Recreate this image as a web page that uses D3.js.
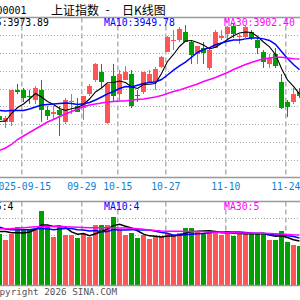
<!DOCTYPE html>
<html>
<head>
<meta charset="utf-8">
<script src="https://cdn.jsdelivr.net/npm/d3@7"></script>
<style>
body { margin: 0; background: #fff; }
svg { display: block; }
.mono { font-family: "DejaVu Sans Mono", "Liberation Mono", monospace; }
.cjk { font-family: "Noto Sans CJK SC", sans-serif; }
</style>
</head>
<body>
<svg id="chart" width="300" height="300"></svg>
<script>
// trading days shown in the window
var dates = ["2025-09-09","2025-09-10","2025-09-11","2025-09-12","2025-09-15","2025-09-16","2025-09-17","2025-09-18","2025-09-19",
    "2025-09-22","2025-09-23","2025-09-24","2025-09-25","2025-09-26","2025-09-29","2025-09-30","2025-10-09","2025-10-10",
    "2025-10-13","2025-10-14","2025-10-15","2025-10-16","2025-10-17","2025-10-20","2025-10-21","2025-10-22","2025-10-23",
    "2025-10-24","2025-10-27","2025-10-28","2025-10-29","2025-10-30","2025-10-31","2025-11-03","2025-11-04","2025-11-05",
    "2025-11-06","2025-11-07","2025-11-10","2025-11-11","2025-11-12","2025-11-13","2025-11-14","2025-11-17","2025-11-18",
    "2025-11-19","2025-11-20","2025-11-21","2025-11-24","2025-11-25","2025-11-26"];

var open = [3817.3,3806.0,3806.0,3875.8,3875.8,3864.5,3853.3,3875.8,3830.8,3821.8,3830.8,3803.8,3849.9,3839.8,3835.3,3869.0,
    3898.3,3916.3,3802.6,3909.5,3869.0,3900.5,3911.8,3865.6,3871.3,3896.0,3894.9,3928.6,3963.5,3987.1,3988.3,4006.3,3984.4,
    3956.8,3972.5,3925.3,3971.4,3993.9,4001.8,4022.0,3996.1,3996.1,4007.4,3988.3,3961.3,3936.5,3959.0,3896.0,3848.8,3851.0,3871.3];
var high = [3819.5,3819.5,3878.0,3891.5,3882.5,3875.8,3884.8,3900.5,3839.8,3839.8,3839.8,3857.8,3866.8,3857.8,3864.5,3889.3,
    3937.6,3936.5,3890.4,3936.5,3920.8,3929.8,3920.8,3878.0,3918.5,3920.8,3928.6,3954.5,3999.5,4010.8,4018.6,4023.1,3988.3,
    3977.0,3986.0,3970.3,4010.8,4010.8,4022.0,4025.4,4004.0,4022.0,4010.8,3992.8,3965.8,3959.0,3970.3,3911.8,3853.3,3880.3,3881.4];
var low = [3806.0,3792.5,3794.8,3866.8,3851.0,3844.3,3844.3,3803.8,3808.3,3810.5,3772.3,3799.3,3824.0,3826.3,3808.3,3864.5,
    3893.8,3882.5,3801.5,3848.8,3853.3,3898.3,3835.3,3848.8,3869.0,3893.8,3878.0,3925.3,3961.3,3965.8,3984.9,3983.8,3936.5,
    3936.5,3936.5,3923.0,3970.3,3988.3,3988.3,3992.8,3979.3,3993.9,3988.3,3959.0,3925.3,3925.3,3925.3,3834.1,3816.1,3844.3,3860.0];
var close = [3808.3,3815.0,3875.8,3871.3,3860.0,3861.1,3880.3,3830.8,3819.5,3828.5,3820.6,3853.3,3852.1,3828.5,3862.3,3884.8,
    3934.3,3896.0,3889.3,3862.3,3911.8,3916.3,3839.8,3863.4,3916.3,3914.0,3924.1,3951.1,3996.1,3988.3,4014.1,3986.0,3956.1,
    3974.8,3960.1,3968.0,4007.4,3998.4,4018.6,4001.8,3999.5,4018.6,3993.9,3971.4,3938.8,3947.8,3930.9,3836.4,3838.6,3869.0,3864.5];

var ma5 = [3806.0,3807.1,3824.0,3837.5,3845.4,3856.6,3869.0,3861.1,3851.0,3844.3,3835.3,3830.8,3834.8,3837.5,3844.3,3856.6,
    3872.4,3881.4,3893.1,3893.8,3897.1,3893.8,3883.9,3880.3,3889.3,3889.9,3891.5,3914.0,3941.0,3956.8,3974.8,3987.1,3988.3,
    3983.8,3978.1,3969.1,3973.2,3981.5,3990.5,3998.8,4005.1,4007.4,4006.3,3997.3,3984.9,3974.1,3956.8,3925.3,3899.4,3884.8,3868.3];
var ma10 = [3830.8,3829.6,3830.8,3830.8,3830.8,3834.1,3838.6,3843.1,3844.3,3845.2,3846.3,3847.6,3846.5,3844.3,3845.8,3848.8,
    3854.4,3861.1,3868.3,3873.5,3880.3,3884.8,3883.6,3887.7,3891.5,3893.8,3894.9,3900.5,3910.6,3921.4,3931.1,3939.7,3950.5,
    3961.3,3968.0,3972.1,3978.6,3982.6,3986.7,3989.6,3989.6,3991.9,3993.9,3993.7,3991.9,3988.3,3979.5,3963.5,3947.8,3934.3,3922.5];
var ma30 = [3740.8,3746.4,3754.3,3765.5,3773.4,3781.3,3789.1,3797.0,3804.9,3810.5,3817.3,3822.9,3828.5,3834.1,3839.1,3843.1,
    3845.4,3847.6,3849.9,3851.0,3852.1,3852.1,3854.4,3855.5,3856.6,3858.9,3861.1,3864.5,3869.0,3873.5,3876.9,3881.4,3885.9,
    3890.4,3896.0,3900.5,3905.0,3910.6,3916.3,3923.0,3928.6,3934.3,3938.8,3943.3,3946.6,3948.9,3950.7,3950.7,3948.9,3947.1,3946.6];

var volume = [6.15,5.36,6.15,7.02,6.63,6.75,6.75,8.81,7.02,5.75,7.02,6.07,6.04,5.63,6.15,5.75,7.26,7.26,7.23,8.13,6.55,6.07,
    6.23,5.63,6.07,5.56,5.83,5.75,6.23,6.04,6.23,6.82,6.82,6.35,6.23,6.43,6.35,6.07,6.43,5.87,6.23,6.23,6.15,6.15,6.15,5.44,
    5.36,6.43,5.15,4.88,4.68];
var volMa5 = [6.43,6.43,6.27,6.27,6.26,6.38,6.66,7.19,7.19,7.02,7.07,6.93,6.38,6.10,6.18,5.93,6.17,6.41,6.73,7.13,7.29,7.05,
    6.84,6.52,6.11,5.91,5.86,5.77,5.89,5.88,6.02,6.21,6.43,6.45,6.49,6.53,6.44,6.29,6.30,6.23,6.19,6.17,6.18,6.13,6.18,6.02,
    5.85,5.91,5.71,5.45,5.30];
var volMa10 = [6.94,6.73,6.63,6.63,6.63,6.63,6.75,6.75,6.75,6.64,6.73,6.80,6.79,6.65,6.60,6.50,6.55,6.40,6.42,6.66,6.61,6.61,
    6.63,6.63,6.62,6.60,6.46,6.31,6.21,6.00,5.97,6.04,6.10,6.17,6.19,6.28,6.33,6.36,6.38,6.36,6.36,6.31,6.24,6.22,6.21,6.11,
    6.01,6.05,5.92,5.82,5.66];
var volMa30 = [6.75,6.76,6.78,6.82,6.88,6.94,7.00,7.02,7.02,7.02,7.01,6.99,6.96,6.93,6.90,6.88,6.87,6.87,6.87,6.87,6.86,6.84,
    6.81,6.77,6.70,6.62,6.55,6.50,6.47,6.46,6.45,6.44,6.43,6.42,6.40,6.37,6.33,6.30,6.28,6.27,6.26,6.25,6.24,6.23,6.22,6.20,
    6.17,6.13,6.08,6.03,6.00];

var tickDates = ["2025-09-15","2025-09-29","2025-10-15","2025-10-27","2025-11-10","2025-11-24"];
var tickLabels = ["2025-09-15","09-29","10-15","10-27","11-10","11-24"];
var priceGrid = [3720,3760,3800,3840,3880,3920,3960,4000];
var volGrid = [2,4,6,8];
var priceLabels = ["MA5:3973.89","MA10:3949.78","MA30:3902.40"];
var volLabels = ["MA5:4","MA10:4","MA30:5"];

var svg = d3.select("#chart");
var mainTop = 17.5, mainBottom = 177.5, volTop = 201.5, volBottom = 285.5;
var red = "#ff5555", green = "#00a000";
var maColors = ["#000000", "#0000ff", "#ff00ff"];

var x = d3.scaleBand().domain(dates).range([-3, 303]);
var y = d3.scaleLinear().domain([3680, 4040]).range([mainBottom, mainTop]);
var yv = d3.scaleLinear().domain([0, 10]).range([volBottom, volTop]);

var bars = dates.map(function (d, i) {
    return {date: d, o: open[i], h: high[i], l: low[i], c: close[i], v: volume[i], up: close[i] >= open[i]};
});

// grid
var grid = svg.append("g").attr("fill", "none");

grid.selectAll(".hgrid")
    .data(priceGrid.map(y).concat(volGrid.map(yv)))
    .enter().append("line")
    .attr("x1", 0).attr("x2", 300)
    .attr("y1", function (d) { return Math.round(d) + 0.5; })
    .attr("y2", function (d) { return Math.round(d) + 0.5; })
    .attr("stroke", "#a8a8a8")
    .attr("stroke-dasharray", "1,2")
    .attr("shape-rendering", "crispEdges");

[[mainTop, mainBottom], [volTop, volBottom]].forEach(function (p) {
    grid.selectAll(null)
        .data(tickDates)
        .enter().append("line")
        .attr("x1", function (d) { return x(d) + 0.8; })
        .attr("x2", function (d) { return x(d) + 0.8; })
        .attr("y1", p[0]).attr("y2", p[1])
        .attr("stroke", "#b0b0b0")
        .attr("stroke-width", 1.5)
        .attr("stroke-dasharray", "5,3");
});

// candles
var candle = svg.append("g").attr("shape-rendering", "crispEdges")
    .selectAll("g").data(bars).enter().append("g")
    .attr("fill", function (d) { return d.up ? red : green; })
    .attr("stroke", function (d) { return d.up ? red : green; });

candle.append("line")
    .attr("x1", function (d) { return x(d.date) + 2.5; })
    .attr("x2", function (d) { return x(d.date) + 2.5; })
    .attr("y1", function (d) { return y(d.h); })
    .attr("y2", function (d) { return y(d.l); });

candle.append("rect")
    .attr("stroke", "none")
    .attr("x", function (d) { return x(d.date); })
    .attr("width", x.bandwidth() - 1)
    .attr("y", function (d) { return y(Math.max(d.o, d.c)); })
    .attr("height", function (d) { return Math.max(1, Math.abs(y(d.o) - y(d.c))); });

// volume bars
svg.append("g").attr("shape-rendering", "crispEdges")
    .selectAll("rect").data(bars).enter().append("rect")
    .attr("fill", function (d) { return d.up ? red : green; })
    .attr("x", function (d) { return x(d.date); })
    .attr("width", x.bandwidth() - 1)
    .attr("y", function (d) { return yv(d.v); })
    .attr("height", function (d) { return volBottom - yv(d.v); });

// moving averages
function maLine(scale) {
    return d3.line()
        .x(function (d, i) { return x(dates[i]) + 2.5; })
        .y(function (d) { return scale(d); });
}

[ma5, ma10, ma30].forEach(function (s, i) {
    svg.append("path")
        .attr("d", maLine(y)(s))
        .attr("fill", "none")
        .attr("stroke", maColors[i])
        .attr("stroke-width", i === 0 ? 1.1 : 1.5);
});

[volMa5, volMa10, volMa30].forEach(function (s, i) {
    svg.append("path")
        .attr("d", maLine(yv)(s))
        .attr("fill", "none")
        .attr("stroke", maColors[i])
        .attr("stroke-width", 1.5);
});

// frame lines
svg.append("g")
    .selectAll("line").data([mainTop, mainBottom, volTop, volBottom])
    .enter().append("line")
    .attr("x1", 0).attr("x2", 300)
    .attr("y1", function (d) { return d; })
    .attr("y2", function (d) { return d; })
    .attr("stroke", "#999")
    .attr("stroke-width", 1.3);

// date labels
svg.append("g")
    .selectAll("text").data(tickDates)
    .enter().append("text")
    .attr("class", "mono")
    .attr("x", function (d) { return x(d) + 0.8; })
    .attr("y", 189.5)
    .attr("text-anchor", "middle")
    .attr("font-size", "9.7px")
    .attr("fill", "#0b7fd6")
    .text(function (d, i) { return tickLabels[i]; });

// MA legends
var legendX = [-16, 104, 224];
priceLabels.forEach(function (t, i) {
    svg.append("text").attr("class", "mono")
        .attr("x", legendX[i]).attr("y", 26)
        .attr("font-size", "9.8px")
        .attr("fill", maColors[i])
        .text(t);
});
volLabels.forEach(function (t, i) {
    svg.append("text").attr("class", "mono")
        .attr("x", legendX[i]).attr("y", 210)
        .attr("font-size", "9.8px")
        .attr("fill", maColors[i])
        .text(t);
});

// title
svg.append("text").attr("class", "mono")
    .attr("x", 26.5).attr("y", 14)
    .attr("text-anchor", "end")
    .attr("font-size", "10px")
    .text("000001");
svg.append("text").attr("class", "cjk")
    .attr("x", 51).attr("y", 14.5)
    .attr("font-size", "12px")
    .text("上证指数");
svg.append("text").attr("class", "cjk")
    .attr("x", 107.5).attr("y", 14)
    .attr("text-anchor", "middle")
    .attr("font-size", "12px")
    .text("-");
svg.append("text").attr("class", "cjk")
    .attr("x", 122).attr("y", 14.5)
    .attr("font-size", "12px")
    .text("日K线图");

svg.append("text").attr("class", "mono")
    .attr("x", 117).attr("y", 295)
    .attr("text-anchor", "end")
    .attr("font-size", "9.3px")
    .attr("fill", "#555")
    .text("Copyright 2026 SINA.COM");
</script>
</body>
</html>
